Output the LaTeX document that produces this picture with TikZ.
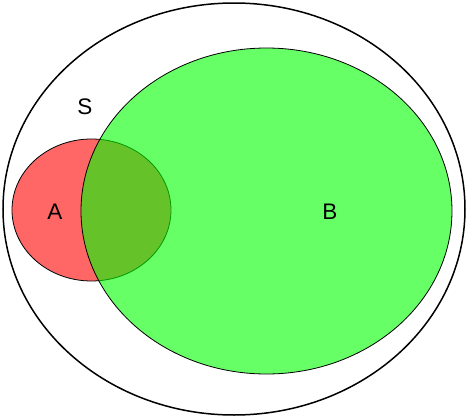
\documentclass[tikz,border=0pt]{standalone}
\usepackage{fontspec}
\setmainfont{Liberation Sans}
\begin{document}
\begin{tikzpicture}[x=1pt,y=-1pt,font=\fontsize{22.5}{27}\selectfont]
  \useasboundingbox (0,0) rectangle (467,418);
  \draw[line width=1.5pt] (234,209) ellipse [x radius=231, y radius=206];
  \draw[fill=red,fill opacity=0.6,line width=0.8pt] (91.5,210) ellipse [x radius=79.5, y radius=71];
  \draw[fill=green,fill opacity=0.6,line width=0.8pt] (266.5,211) ellipse [x radius=185.5, y radius=163];
  \node (s) at (85,107) {S};
  \node (a) at (55,212) {A};
  \node (b) at (330,212) {B};
\end{tikzpicture}
\end{document}
